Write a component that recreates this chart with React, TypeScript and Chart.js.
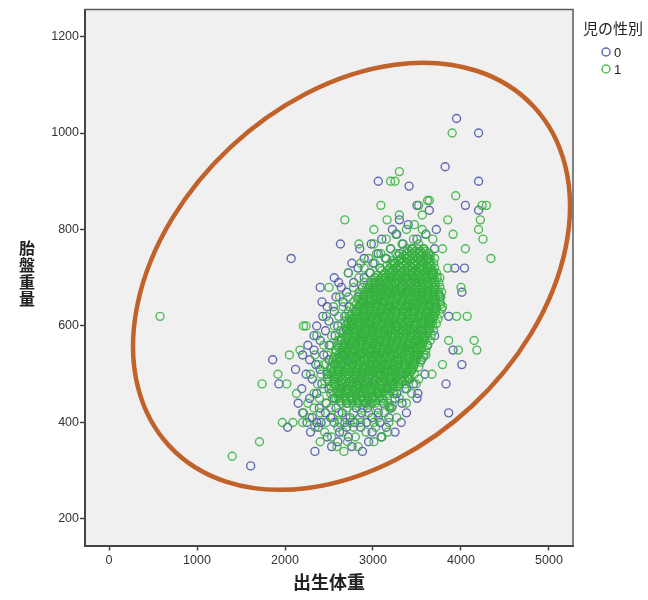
import React, { useEffect, useRef } from 'react';
import { Chart, registerables } from 'chart.js';

Chart.register(...registerables);

// ---- tick labels & texts ----
const xTickValues = [0, 1000, 2000, 3000, 4000, 5000];
const yTickValues = [200, 400, 600, 800, 1000, 1200];
const xAxisTitle = '出生体重';
const yAxisTitle = '胎盤重量';
const legendTitle = '児の性別';
const seriesLabels = ['0', '1'];

// ---- data: each row = [placenta weight, birth weight, birth weight, ...] ----
const sex0Rows: number[][] = [
  [310, 1610],
  [340, 2340, 2880],
  [350, 2530, 2760],
  [360, 2600, 2950],
  [370, 2480, 2720, 3100],
  [380, 2290, 2620, 2990, 3250],
  [390, 2030, 2380, 2700, 2860, 3150],
  [400, 2250, 2360, 2410, 2560, 2680, 2790, 2930, 3080, 3320],
  [410, 2310, 2520, 2740, 2990, 3180],
  [420, 2200, 2460, 2650, 2870, 3060, 3380, 3860],
  [430, 2390, 2580, 2810, 2940, 3210],
  [440, 2150, 2470, 2700, 2920, 3120, 3330],
  [450, 2280, 2560, 2760, 2990, 3250, 3500],
  [460, 2360, 2620, 2840, 3050, 3270, 3510],
  [470, 2190, 2500, 2710, 2900, 3140, 3380],
  [480, 1930, 2420, 2650, 2830, 3010, 3230, 3460, 3830],
  [490, 2310, 2560, 2780, 2950, 3190, 3400],
  [500, 2240, 2480, 2720, 2880, 3080, 3300, 3590],
  [510, 2120, 2400, 2610, 2820, 3020, 3210, 3440],
  [520, 2350, 2560, 2760, 2960, 3130, 3360, 4010],
  [530, 1860, 2280, 2500, 2700, 2900, 3090, 3290, 3550],
  [540, 2200, 2440, 2660, 2850, 3040, 3230, 3480],
  [550, 2330, 2580, 2790, 2990, 3180, 3400, 3910],
  [560, 2260, 2510, 2730, 2930, 3120, 3330, 3620],
  [570, 2400, 2640, 2860, 3070, 3270, 3490],
  [580, 2330, 2570, 2800, 3000, 3210, 3430, 3700],
  [590, 2460, 2700, 2920, 3130, 3340, 3560],
  [600, 2360, 2600, 2840, 3050, 3260, 3480],
  [610, 2500, 2750, 2970, 3180, 3400, 3640],
  [620, 2430, 2680, 2900, 3110, 3330, 3550, 3860],
  [630, 2560, 2810, 3030, 3250, 3470],
  [640, 2480, 2730, 2960, 3180, 3400, 3650],
  [650, 2420, 2660, 2890, 3110, 3330, 3560],
  [660, 2580, 2830, 3050, 3280, 3500, 3760],
  [670, 2700, 2950, 3170, 3400, 3620, 4010],
  [680, 2400, 2640, 2880, 3100, 3330, 3560],
  [690, 2610, 2780, 3020, 3250, 3480],
  [700, 2560, 2900, 3140, 3370, 3600],
  [710, 2720, 2970, 3200, 3440, 3680],
  [720, 2830, 3080, 3310, 3540, 3930, 4040],
  [730, 2760, 3000, 3240, 3470],
  [740, 2070, 2900, 3150, 3390, 3620],
  [750, 3060, 3300, 3530],
  [760, 2850, 3200, 3450, 3700],
  [770, 2630, 2980, 3340],
  [780, 3100, 3500],
  [790, 3270, 3600],
  [800, 3220, 3720],
  [810, 3400],
  [820, 3300],
  [840, 3640, 4200],
  [850, 3500, 4050],
  [890, 3410],
  [900, 3060, 4200],
  [930, 3820],
  [1000, 4200],
  [1030, 3950],
];

const sex1Rows: number[][] = [
  [330, 1400],
  [340, 2670],
  [350, 2590, 2830],
  [360, 1710, 2400, 2710, 3010],
  [370, 2530, 2800, 3090],
  [380, 2450, 2660, 2920, 3170],
  [390, 2340, 2600, 2780, 3030],
  [400, 1970, 2090, 2200, 2470, 2620, 2740, 2860, 3010, 3180],
  [410, 2280, 2540, 2690, 2850, 3060, 3270],
  [420, 2210, 2400, 2610, 2780, 2950, 3130],
  [430, 2330, 2520, 2700, 2880, 3050, 3190],
  [434, 3185, 3220],
  [440, 2260, 2470, 2640, 2820, 2990, 3170, 3380],
  [450, 2390, 2580, 2760, 2940, 3110, 3300],
  [460, 2130, 2330, 2520, 2700, 2880, 3060, 3240, 3440],
  [470, 2440, 2630, 2810, 2990, 3170, 3360],
  [480, 1740, 2020, 2370, 2560, 2740, 2920, 3100, 3290, 3490],
  [490, 2480, 2660, 2840, 3020, 3210, 3400, 3520],
  [500, 1920, 2290, 2410, 2600, 2780, 2960, 3140, 3330, 3670],
  [510, 2520, 2710, 2890, 3070, 3250, 3450],
  [520, 2380, 2450, 2640, 2820, 3000, 3180, 3370, 3790],
  [530, 2550, 2730, 2910, 3090, 3270, 3460],
  [540, 2050, 2340, 2480, 2660, 2840, 3020, 3200, 3390, 3600],
  [550, 2170, 2580, 2760, 2940, 3120, 3300, 3500, 3970, 4180],
  [560, 2440, 2500, 2680, 2860, 3040, 3220, 3410, 3620],
  [570, 2600, 2780, 2960, 3140, 3320, 3510, 3860, 4150],
  [580, 2360, 2530, 2710, 2890, 3070, 3250, 3440],
  [590, 2630, 2810, 2990, 3170, 3350, 3540],
  [600, 2210, 2240, 2560, 2740, 2920, 3100, 3280, 3470, 3680],
  [610, 2680, 2860, 3040, 3220, 3400, 3590],
  [620, 580, 2470, 2610, 2790, 2970, 3150, 3330, 3520, 3950, 4070],
  [630, 2720, 2900, 3080, 3260, 3440, 3630],
  [640, 2550, 2660, 2840, 3020, 3200, 3380, 3570],
  [650, 2780, 2960, 3140, 3320, 3500, 3700],
  [660, 2620, 2720, 2900, 3080, 3260, 3440, 3630],
  [670, 2840, 3020, 3200, 3380, 3560, 3780],
  [680, 2500, 2780, 2960, 3140, 3320, 3500, 3690, 4000],
  [690, 2900, 3080, 3260, 3440, 3620],
  [700, 2840, 3020, 3200, 3380, 3560, 3760],
  [710, 2720, 2960, 3140, 3320, 3500, 3690],
  [720, 2900, 3080, 3260, 3440, 3620, 3850],
  [730, 2860, 3020, 3200, 3380, 3570],
  [740, 2950, 3140, 3320, 3510, 3700, 4340],
  [750, 3040, 3090, 3260, 3450, 3640],
  [760, 3200, 3390, 3580, 3790, 4050],
  [770, 2840, 3010, 3330, 3520],
  [780, 3150, 3460, 3680, 4250],
  [790, 3260, 3600, 3910],
  [800, 3010, 3380, 3560, 4200],
  [810, 3470],
  [820, 2680, 3160, 3850, 4220],
  [830, 3300, 3560],
  [850, 3090, 3520, 4240, 4290],
  [860, 3620, 3640],
  [870, 3940],
  [900, 3200, 3250],
  [920, 3300],
  [1000, 3900],
];

// dense core of series 1 (the solid green mass)
const sex1CoreRows: number[][] = [
  [440, 2710, 2770, 2840, 2900, 2970, 3030],
  [445, 2630, 2690, 2760, 2820, 2890, 2950, 3020, 3110],
  [450, 2540, 2610, 2680, 2740, 2810, 2870, 2940, 3000, 3070],
  [455, 2620, 2680, 2750, 2810, 2880, 2940, 3010, 3070],
  [460, 2590, 2650, 2720, 2780, 2850, 2910, 2980, 3040, 3110, 3170, 3230],
  [465, 2540, 2600, 2670, 2730, 2800, 2860, 2930, 2990, 3060, 3120, 3190],
  [470, 2640, 2700, 2770, 2830, 2900, 2960, 3030, 3090, 3160, 3220],
  [475, 2520, 2580, 2640, 2710, 2770, 2840, 2900, 2970, 3030, 3100, 3160, 3230, 3280],
  [480, 2550, 2610, 2680, 2740, 2810, 2870, 2940, 3000, 3070, 3130, 3200, 3260, 3300, 3370],
  [485, 2500, 2560, 2630, 2690, 2760, 2820, 2890, 2950, 3020, 3080, 3150, 3210, 3280, 3330],
  [490, 2600, 2660, 2730, 2790, 2860, 2920, 2990, 3050, 3120, 3180, 3250, 3310, 3360, 3420],
  [495, 2490, 2550, 2610, 2680, 2740, 2810, 2870, 2940, 3000, 3070, 3130, 3200, 3260, 3330, 3390],
  [500, 2520, 2580, 2650, 2710, 2780, 2840, 2910, 2970, 3040, 3100, 3170, 3230, 3300, 3360, 3410, 3470],
  [505, 2480, 2540, 2610, 2670, 2740, 2800, 2870, 2930, 3000, 3060, 3130, 3190, 3260, 3320, 3390, 3430],
  [510, 2610, 2680, 2740, 2810, 2870, 2940, 3000, 3070, 3130, 3200, 3260, 3330, 3390, 3440],
  [515, 2520, 2580, 2640, 2710, 2770, 2840, 2900, 2970, 3030, 3100, 3160, 3230, 3290, 3360, 3420, 3460, 3520],
  [520, 2570, 2640, 2700, 2770, 2830, 2900, 2960, 3030, 3090, 3160, 3220, 3290, 3350, 3420, 3470],
  [525, 2540, 2600, 2670, 2730, 2800, 2860, 2930, 2990, 3060, 3120, 3190, 3250, 3320, 3380, 3450, 3480, 3540],
  [530, 2590, 2650, 2720, 2780, 2850, 2910, 2980, 3040, 3110, 3170, 3240, 3300, 3370, 3430, 3490],
  [535, 2560, 2620, 2680, 2750, 2810, 2880, 2940, 3010, 3070, 3140, 3200, 3270, 3330, 3400, 3460, 3500, 3570],
  [540, 2610, 2680, 2740, 2810, 2870, 2940, 3000, 3070, 3130, 3200, 3260, 3330, 3390, 3460, 3510, 3580],
  [545, 2580, 2640, 2710, 2770, 2840, 2900, 2970, 3030, 3100, 3160, 3230, 3290, 3360, 3420, 3490, 3530],
  [550, 2640, 2700, 2770, 2830, 2900, 2960, 3030, 3090, 3160, 3220, 3290, 3350, 3420, 3480, 3540, 3600],
  [555, 2610, 2670, 2730, 2800, 2860, 2930, 2990, 3060, 3120, 3190, 3250, 3320, 3380, 3450, 3510, 3550],
  [560, 2600, 2660, 2730, 2790, 2860, 2920, 2990, 3050, 3120, 3180, 3250, 3310, 3380, 3440, 3510, 3560, 3620],
  [565, 2690, 2760, 2820, 2890, 2950, 3020, 3080, 3150, 3210, 3280, 3340, 3410, 3470, 3540, 3570],
  [570, 2620, 2680, 2750, 2810, 2880, 2940, 3010, 3070, 3140, 3200, 3270, 3330, 3400, 3460, 3530, 3580, 3650],
  [575, 2650, 2710, 2780, 2840, 2910, 2970, 3040, 3100, 3170, 3230, 3300, 3360, 3430, 3490, 3560, 3590],
  [580, 2700, 2770, 2830, 2900, 2960, 3030, 3090, 3160, 3220, 3290, 3350, 3420, 3480, 3550, 3600, 3660],
  [585, 2670, 2730, 2800, 2860, 2930, 2990, 3060, 3120, 3190, 3250, 3320, 3380, 3450, 3510, 3580, 3620],
  [590, 2660, 2730, 2790, 2860, 2920, 2990, 3050, 3120, 3180, 3250, 3310, 3380, 3440, 3510, 3570, 3630, 3690],
  [595, 2700, 2760, 2820, 2890, 2950, 3020, 3080, 3150, 3210, 3280, 3340, 3410, 3470, 3540, 3600, 3640],
  [600, 2690, 2750, 2820, 2880, 2950, 3010, 3080, 3140, 3210, 3270, 3340, 3400, 3470, 3530, 3600, 3650],
  [605, 2720, 2780, 2850, 2910, 2980, 3040, 3110, 3170, 3240, 3300, 3370, 3430, 3500, 3560, 3630, 3660, 3720],
  [610, 2710, 2770, 2840, 2900, 2970, 3030, 3100, 3160, 3230, 3290, 3360, 3420, 3490, 3550, 3620, 3670],
  [615, 2740, 2800, 2870, 2930, 3000, 3060, 3130, 3190, 3260, 3320, 3390, 3450, 3520, 3580, 3650, 3680, 3740],
  [620, 2730, 2790, 2860, 2920, 2990, 3050, 3120, 3180, 3250, 3310, 3380, 3440, 3510, 3570, 3640, 3690],
  [625, 2760, 2820, 2890, 2950, 3020, 3080, 3150, 3210, 3280, 3340, 3410, 3470, 3540, 3600, 3670, 3700, 3760],
  [630, 2810, 2880, 2940, 3010, 3070, 3140, 3200, 3270, 3330, 3400, 3460, 3530, 3590, 3660, 3710],
  [635, 2780, 2840, 2910, 2970, 3040, 3100, 3170, 3230, 3300, 3360, 3430, 3490, 3560, 3620, 3690, 3720, 3780],
  [640, 2840, 2900, 2970, 3030, 3100, 3160, 3230, 3290, 3360, 3420, 3490, 3550, 3620, 3680, 3720, 3790],
  [645, 2810, 2870, 2930, 3000, 3060, 3130, 3190, 3260, 3320, 3390, 3450, 3520, 3580, 3650, 3710, 3770],
  [650, 2860, 2930, 2990, 3060, 3120, 3190, 3250, 3320, 3380, 3450, 3510, 3580, 3640, 3700, 3760],
  [655, 2830, 2890, 2960, 3020, 3090, 3150, 3220, 3280, 3350, 3410, 3480, 3540, 3610, 3670, 3710],
  [660, 2880, 2950, 3010, 3080, 3140, 3210, 3270, 3340, 3400, 3470, 3530, 3600, 3660, 3710, 3770],
  [665, 2850, 2910, 2980, 3040, 3110, 3170, 3240, 3300, 3370, 3430, 3500, 3560, 3630, 3690, 3750],
  [670, 2900, 2970, 3030, 3100, 3160, 3230, 3290, 3360, 3420, 3490, 3550, 3620, 3680, 3740],
  [675, 2940, 3000, 3070, 3130, 3200, 3260, 3330, 3390, 3460, 3520, 3590, 3650, 3700],
  [680, 2930, 2990, 3060, 3120, 3190, 3250, 3320, 3380, 3450, 3510, 3580, 3640, 3700, 3760],
  [685, 2960, 3030, 3090, 3160, 3220, 3290, 3350, 3420, 3480, 3550, 3610, 3670, 3710],
  [690, 2980, 3040, 3110, 3170, 3240, 3300, 3370, 3430, 3500, 3560, 3630, 3690, 3750],
  [695, 3010, 3070, 3140, 3200, 3270, 3330, 3400, 3460, 3530, 3590, 3660, 3700],
  [700, 3020, 3090, 3150, 3220, 3280, 3350, 3410, 3480, 3540, 3610, 3670, 3730],
  [705, 3050, 3120, 3180, 3250, 3310, 3380, 3440, 3510, 3570, 3640, 3680],
  [710, 3140, 3200, 3270, 3330, 3400, 3460, 3530, 3590, 3660, 3720],
  [715, 3100, 3170, 3230, 3300, 3360, 3430, 3490, 3560, 3620, 3670],
  [720, 3190, 3260, 3320, 3390, 3450, 3520, 3580, 3650, 3700],
  [725, 3160, 3220, 3290, 3350, 3420, 3480, 3550, 3610, 3660],
  [730, 3250, 3320, 3380, 3450, 3510, 3580, 3640, 3690],
  [735, 3220, 3290, 3350, 3420, 3480, 3550, 3610, 3650],
  [740, 3320, 3380, 3450, 3510, 3580, 3640],
  [745, 3280, 3350, 3410, 3480, 3540, 3610, 3650],
  [750, 3380, 3440, 3510, 3570, 3630],
  [755, 3350, 3410, 3480, 3540, 3600],
  [760, 3440, 3510, 3570],
];

// ---- annotation ellipse (centre in data units) ----
const ellipseCenter = { x: 2756, y: 703 };

const rowsToPoints = (rows: number[][]) =>
  rows.flatMap(([pw, ...bws]) => bws.map((bw) => ({ x: bw, y: pw })));

const FONT = '"Liberation Sans", Arial, sans-serif';
const CJK = '"Noto Sans CJK JP", "Noto Sans", sans-serif';
const BLUE = 'rgba(70, 82, 168, 0.85)';
const GREEN = 'rgba(52, 178, 60, 0.85)';

const decorPlugin = {
  id: 'decor',
  beforeDraw(chart: any) {
    const { ctx, chartArea: a } = chart;
    ctx.save();
    ctx.fillStyle = '#f0f0f0';
    ctx.fillRect(a.left, a.top, a.right - a.left, a.bottom - a.top);
    ctx.restore();
  },
  afterDatasetsDraw(chart: any) {
    const { ctx } = chart;
    const xs = chart.scales.x;
    const ys = chart.scales.y;
    const cx = xs.getPixelForValue(ellipseCenter.x);
    const cy = ys.getPixelForValue(ellipseCenter.y);
    ctx.save();
    ctx.beginPath();
    ctx.ellipse(cx, cy, 249, 177, (-43 * Math.PI) / 180, 0, Math.PI * 2);
    ctx.strokeStyle = '#c0622a';
    ctx.lineWidth = 4.5;
    ctx.stroke();
    ctx.restore();
  },
  afterDraw(chart: any) {
    const { ctx, chartArea: a } = chart;
    ctx.save();
    // frame top / right
    ctx.strokeStyle = '#5a5a5a';
    ctx.lineWidth = 1.5;
    ctx.beginPath();
    ctx.moveTo(a.left, a.top);
    ctx.lineTo(a.right, a.top);
    ctx.lineTo(a.right, a.bottom);
    ctx.stroke();

    // x title
    ctx.fillStyle = '#222';
    ctx.textAlign = 'center';
    ctx.textBaseline = 'middle';
    ctx.font = `bold 18px ${CJK}`;
    ctx.fillText(xAxisTitle, (a.left + a.right) / 2, 582);

    // y title stacked vertically
    ctx.font = `bold 16px ${CJK}`;
    const chars = Array.from(yAxisTitle);
    const step = 17;
    const cyT = 273;
    chars.forEach((ch, i) => {
      ctx.fillText(ch, 27, cyT - ((chars.length - 1) * step) / 2 + i * step);
    });

    // legend
    ctx.textAlign = 'left';
    ctx.font = `15px ${CJK}`;
    ctx.fillStyle = '#222';
    ctx.fillText(legendTitle, 583, 28);
    chart.data.datasets.forEach((ds: any, i: number) => {
      const y = 52 + i * 17;
      ctx.beginPath();
      ctx.arc(606, y, 4, 0, Math.PI * 2);
      ctx.strokeStyle = ds.borderColor;
      ctx.lineWidth = 1.5;
      ctx.stroke();
      ctx.font = `13px ${FONT}`;
      ctx.fillStyle = '#222';
      ctx.fillText(ds.label, 614, y + 1);
    });
    ctx.restore();
  },
};

export default function App() {
  const ref = useRef<HTMLCanvasElement | null>(null);
  useEffect(() => {
    document.body.style.margin = '0';
    const canvas = ref.current;
    if (!canvas) return;
    const chart = new Chart(canvas, {
      type: 'scatter',
      data: {
        datasets: [
          {
            label: seriesLabels[0],
            data: rowsToPoints(sex0Rows),
            borderColor: BLUE,
            backgroundColor: 'rgba(0,0,0,0)',
            pointRadius: 4,
            pointBorderWidth: 1.4,
            order: 1,
          },
          {
            label: seriesLabels[1],
            data: [...rowsToPoints(sex1Rows), ...rowsToPoints(sex1CoreRows)],
            borderColor: GREEN,
            backgroundColor: 'rgba(0,0,0,0)',
            pointRadius: 4,
            pointBorderWidth: 1.4,
            order: 0,
          },
        ],
      },
      options: {
        animation: false,
        responsive: false,
        devicePixelRatio: 1,
        layout: { padding: { left: 0, top: 9.5, right: 75, bottom: 0 }, autoPadding: false },
        plugins: { legend: { display: false }, tooltip: { enabled: false } },
        scales: {
          x: {
            type: 'linear',
            min: -273,
            max: 5273,
            afterFit: (s: any) => { s.height = 54.5; },
            afterBuildTicks: (s: any) => { s.ticks = xTickValues.map((v) => ({ value: v })); },
            grid: { display: true, drawOnChartArea: false, drawTicks: true, tickLength: 5, tickWidth: 1.5, tickColor: '#444' },
            border: { display: true, color: '#444', width: 2 },
            ticks: { color: '#333', font: { family: FONT, size: 12.5 }, padding: 3, maxRotation: 0, autoSkip: false, callback: (v: any) => String(v) },
          },
          y: {
            type: 'linear',
            min: 145,
            max: 1256,
            afterFit: (s: any) => { s.width = 85; },
            afterBuildTicks: (s: any) => { s.ticks = yTickValues.map((v) => ({ value: v })); },
            grid: { display: true, drawOnChartArea: false, drawTicks: true, tickLength: 5, tickWidth: 1.5, tickColor: '#444' },
            border: { display: true, color: '#444', width: 2 },
            ticks: { color: '#333', font: { family: FONT, size: 12.5 }, padding: 1, autoSkip: false, callback: (v: any) => String(v) },
          },
        },
      },
      plugins: [decorPlugin],
    });
    return () => chart.destroy();
  }, []);
  return (
    <div style={{ width: 648, height: 600, background: '#fff' }}>
      <canvas ref={ref} width={648} height={600} style={{ display: 'block' }} />
    </div>
  );
}
